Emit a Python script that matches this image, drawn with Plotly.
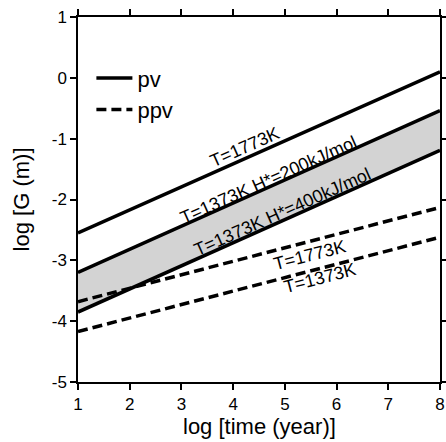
import plotly.graph_objects as go

# ---- data ----
log_time = [1, 8]
pv_1773 = [-2.55, 0.10]
pv_1373_h200 = [-3.20, -0.54]
pv_1373_h400 = [-3.85, -1.19]
ppv_1773 = [-3.68, -2.13]
ppv_1373 = [-4.17, -2.62]

x_ticks = [1, 2, 3, 4, 5, 6, 7, 8]
y_ticks = [-5, -4, -3, -2, -1, 0, 1]
x_tick_text = ["1", "2", "3", "4", "5", "6", "7", "8"]
y_tick_text = ["-5", "-4", "-3", "-2", "-1", "0", "1"]

FONT = "Liberation Sans, Arial, Helvetica, sans-serif"
GRAY = "#d3d3d3"
LW = 3.5

fig = go.Figure()

# shaded band between H*=200 and H*=400 lines
fig.add_trace(go.Scatter(x=log_time, y=pv_1373_h200, mode="lines",
                         line=dict(color="black", width=LW), showlegend=False, hoverinfo="skip"))
fig.add_trace(go.Scatter(x=log_time, y=pv_1373_h400, mode="lines", fill="tonexty",
                         fillcolor=GRAY, line=dict(color="black", width=LW),
                         showlegend=False, hoverinfo="skip"))
fig.add_trace(go.Scatter(x=log_time, y=pv_1773, mode="lines", name="pv",
                         line=dict(color="black", width=LW), showlegend=True))
fig.add_trace(go.Scatter(x=log_time, y=ppv_1773, mode="lines", name="ppv",
                         line=dict(color="black", width=LW, dash="10px,5px"), showlegend=True))
fig.add_trace(go.Scatter(x=log_time, y=ppv_1373, mode="lines",
                         line=dict(color="black", width=LW, dash="10px,5px"), showlegend=False))

labels = [
    ("T=1773K", 4.23, -1.14, -24),
    ("T=1373K H*=200kJ/mol", 4.68, -1.68, -24),
    ("T=1373K H*=400kJ/mol", 4.95, -2.21, -24),
    ("T=1773K", 5.49, -2.92, -14.6),
    ("T=1373K", 5.68, -3.29, -14.6),
]
for txt, ax_, ay_, ang in labels:
    fig.add_annotation(x=ax_, y=ay_, text=txt, textangle=ang, showarrow=False,
                       font=dict(family=FONT, size=18, color="black"))

# axis titles
fig.add_annotation(x=0.5, y=-0.123, xref="paper", yref="paper", xanchor="center", yanchor="middle",
                   text="log [time (year)]", showarrow=False,
                   font=dict(family=FONT, size=22, color="black"))
fig.add_annotation(x=-0.155, y=0.5, xref="paper", yref="paper", xanchor="center", yanchor="middle",
                   text="log [G (m)]", textangle=-90, showarrow=False,
                   font=dict(family=FONT, size=22, color="black"))

axis_common = dict(showline=True, linewidth=1.5, linecolor="black", mirror="ticks",
                   ticks="outside", ticklen=6, tickwidth=1.5, tickcolor="black",
                   showgrid=False, zeroline=False, automargin=False,
                   tickfont=dict(family=FONT, size=17, color="black"))

fig.update_layout(
    width=446, height=442, autosize=False,
    margin=dict(l=78, r=6, t=17, b=60),
    plot_bgcolor="white", paper_bgcolor="white",
    xaxis=dict(range=[1, 8], tickvals=x_ticks, ticktext=x_tick_text, **axis_common),
    yaxis=dict(range=[-5, 1], tickvals=y_ticks, ticktext=y_tick_text, **axis_common),
    legend=dict(x=0.037, y=0.89, xanchor="left", yanchor="top", bgcolor="rgba(0,0,0,0)",
                font=dict(family=FONT, size=22, color="black"), tracegroupgap=0,
                traceorder="normal", itemwidth=36),
    showlegend=True,
)

fig.write_html("out.html", config={"displayModeBar": False},
               post_script="document.body.style.margin='0px';document.body.style.overflow='hidden';")
